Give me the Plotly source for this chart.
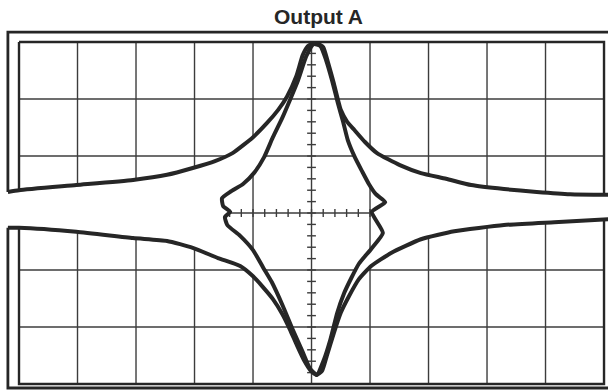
import numpy as np
import plotly.graph_objects as go

# ---- data (in screen divisions) ----
GRID_X = list(range(-5, 6))
GRID_Y = list(range(-3, 4))
MINOR_STEP = 0.2
TITLE = "Output A"

UPPER_X = [-5.19, -5.00, -4.02, -3.05, -2.47, -2.03, -1.65, -1.35, -1.00, -0.76, -0.57, -0.42,
           -0.26, -0.15, -0.06, 0.03, 0.11, 0.20, 0.28, 0.38, 0.50, 0.61, 0.73, 0.91, 1.12,
           1.51, 1.87, 2.30, 2.73, 3.29, 3.85, 4.42, 5.07]
UPPER_Y = [0.37, 0.40, 0.49, 0.58, 0.67, 0.79, 0.91, 1.05, 1.33, 1.58, 1.81, 2.04,
           2.40, 2.77, 2.93, 2.97, 2.97, 2.91, 2.65, 2.28, 1.81, 1.60, 1.46, 1.25, 1.05,
           0.84, 0.70, 0.60, 0.49, 0.42, 0.37, 0.33, 0.32]

LOWER_X = [-5.19, -5.00, -4.02, -3.05, -2.47, -2.03, -1.60, -1.22, -1.00, -0.83, -0.66, -0.50,
           -0.37, -0.25, -0.13, -0.01, 0.09, 0.18, 0.26, 0.38, 0.50, 0.64, 0.81, 1.02, 1.36,
           1.87, 2.44, 3.29, 4.15, 5.07]
LOWER_Y = [-0.26, -0.26, -0.33, -0.44, -0.49, -0.61, -0.79, -0.93, -1.11, -1.30, -1.51, -1.77,
           -2.04, -2.32, -2.58, -2.77, -2.84, -2.77, -2.51, -2.11, -1.75, -1.46, -1.16, -0.93, -0.70,
           -0.46, -0.32, -0.21, -0.16, -0.11]

INNER_X = [0.03, -0.09, -0.23, -0.37, -0.50, -0.66, -0.81, -0.97, -1.17, -1.39, -1.53, -1.51,
           -1.39, -1.48, -1.44, -1.22, -1.00, -0.83, -0.68, -0.49, -0.32, -0.15, -0.03, 0.09,
           0.21, 0.32, 0.44, 0.56, 0.68, 0.81, 1.02, 1.22, 1.03, 1.26, 1.10, 0.98, 0.86, 0.74,
           0.62, 0.54, 0.45, 0.35, 0.25, 0.15, 0.03]
INNER_Y = [2.96, 2.75, 2.33, 1.98, 1.67, 1.33, 0.98, 0.72, 0.51, 0.37, 0.26, 0.12,
           0.02, -0.07, -0.21, -0.40, -0.65, -0.95, -1.21, -1.63, -2.05, -2.44, -2.72, -2.84,
           -2.58, -2.23, -1.75, -1.40, -1.14, -0.89, -0.63, -0.35, 0.02, 0.19, 0.33, 0.51, 0.74, 0.98,
           1.28, 1.60, 1.93, 2.33, 2.68, 2.93, 2.96]

FRAME_LEFT = -5.19
FRAME_TOP = 3.175
FRAME_BOTTOM = -3.07

X_RANGE = [-5.325, 5.068]
Y_RANGE = [-3.140, 3.737]

INK = "#262626"
GRID = "#3c3c3c"

fig = go.Figure()

# ---- graticule ----
gx, gy = [], []
for x in GRID_X[1:-1]:
    gx += [x, x, None]; gy += [GRID_Y[0], GRID_Y[-1], None]
for y in GRID_Y[1:-1]:
    gx += [GRID_X[0], GRID_X[-1], None]; gy += [y, y, None]
for t in np.arange(GRID_X[0], GRID_X[-1] + 1e-6, MINOR_STEP):
    gx += [t, t, None]; gy += [-0.07, 0.07, None]
for t in np.arange(GRID_Y[0], GRID_Y[-1] + 1e-6, MINOR_STEP):
    gx += [-0.075, 0.075, None]; gy += [t, t, None]
fig.add_trace(go.Scatter(x=gx, y=gy, mode="lines", line=dict(color=GRID, width=1.4),
                         hoverinfo="skip", showlegend=False))
bx = [GRID_X[0], GRID_X[-1], GRID_X[-1], GRID_X[0], GRID_X[0]]
by = [GRID_Y[-1], GRID_Y[-1], GRID_Y[0], GRID_Y[0], GRID_Y[-1]]
fig.add_trace(go.Scatter(x=bx, y=by, mode="lines", line=dict(color=INK, width=2.4),
                         hoverinfo="skip", showlegend=False))

# ---- blank band between the outer traces (outside the inner loop) ----
ip = int(np.argmax(UPPER_Y))
jt = int(np.argmin(LOWER_Y))
it = int(np.argmin(INNER_Y))
left_x = UPPER_X[:ip + 1] + INNER_X[:it + 1] + LOWER_X[:jt + 1][::-1]
left_y = UPPER_Y[:ip + 1] + INNER_Y[:it + 1] + LOWER_Y[:jt + 1][::-1]
right_x = UPPER_X[ip:] + [X_RANGE[1] + 0.2, X_RANGE[1] + 0.2] + LOWER_X[jt:][::-1] + INNER_X[it:]
right_y = UPPER_Y[ip:] + [UPPER_Y[-1], LOWER_Y[-1]] + LOWER_Y[jt:][::-1] + INNER_Y[it:]
for mx, my in ((left_x, left_y), (right_x, right_y)):
    fig.add_trace(go.Scatter(x=mx, y=my, mode="lines", fill="toself", fillcolor="white",
                             line=dict(width=0, color="white"), hoverinfo="skip", showlegend=False))

# ---- outer frame ----
fx = [FRAME_LEFT, FRAME_LEFT, X_RANGE[1] + 0.2, None,
      FRAME_LEFT, FRAME_LEFT, X_RANGE[1] + 0.2]
fy = [UPPER_Y[0], FRAME_TOP, FRAME_TOP, None,
      LOWER_Y[0], FRAME_BOTTOM, FRAME_BOTTOM]
fig.add_trace(go.Scatter(x=fx, y=fy, mode="lines", line=dict(color=INK, width=2.8),
                         hoverinfo="skip", showlegend=False))

# ---- traces ----
for xs, ys in ((UPPER_X, UPPER_Y), (LOWER_X, LOWER_Y), (INNER_X, INNER_Y)):
    fig.add_trace(go.Scatter(x=xs, y=ys, mode="lines",
                             line=dict(color=INK, width=4, shape="spline", smoothing=0.5),
                             hoverinfo="skip", showlegend=False))

fig.add_annotation(text="<b>" + TITLE + "</b>", xref="paper", yref="paper",
                   x=318 / 608, y=1 - 16.5 / 392, xanchor="center", yanchor="middle",
                   showarrow=False, font=dict(family="Liberation Sans, Arial", size=21, color=INK))

fig.update_xaxes(range=X_RANGE, visible=False, showgrid=False, zeroline=False)
fig.update_yaxes(range=Y_RANGE, visible=False, showgrid=False, zeroline=False)
fig.update_layout(width=608, height=392, autosize=False,
                  margin=dict(l=0, r=0, t=0, b=0, pad=0),
                  paper_bgcolor="white", plot_bgcolor="white")

fig.write_html("out.html", config={"displayModeBar": False, "staticPlot": True},
               post_script="document.body.style.margin='0';document.body.style.overflow='hidden';")
